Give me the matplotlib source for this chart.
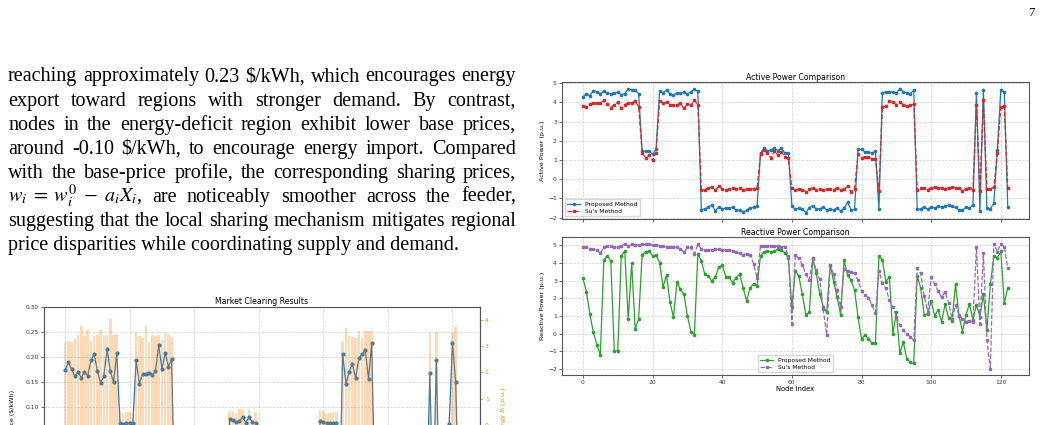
import numpy as np
import matplotlib
matplotlib.use('Agg')
import matplotlib.pyplot as plt

plt.rcParams['mathtext.fontset'] = 'stix'

# ---- data ----
nodes = np.arange(123)

active_proposed = [4.30, 4.42, 4.35, 4.60, 4.55, 4.45, 4.58, 4.48, 4.45, 4.50, 4.52, 4.40, 4.45, 4.70, 4.66, 4.63, 4.45,
                   1.47, 1.46, 1.46, 1.30, 1.56,
                   4.60, 4.50, 4.63, 4.45, 4.38, 4.48, 4.47, 4.52, 4.42, 4.55, 4.67, 4.57,
                   -1.58, -1.55, -1.45, -1.35, -1.65, -1.45, -1.55, -1.50, -1.52, -1.45, -1.60, -1.62, -1.70, -1.62, -1.48, -1.47, -1.40,
                   1.35, 1.62, 1.48, 1.52, 1.62, 1.48, 1.62, 1.35, 1.38,
                   -1.40, -1.57, -1.52, -1.55, -1.75, -1.48, -1.38, -1.55, -1.55, -1.45, -1.60, -1.55, -1.60, -1.50, -1.65, -1.50, -1.20, -1.60, -1.57,
                   1.55, 1.55, 1.42, 1.40, 1.35, 1.45,
                   -1.55,
                   4.50, 4.55, 4.55, 4.55, 4.48, 4.72, 4.55, 4.50, 4.45, 4.62,
                   -1.55, -1.55, -1.45, -1.57, -1.45, -1.50, -1.40, -1.47, -1.40, -1.35, -1.42, -1.47, -1.60, -1.62, -1.45, -1.52, -1.35,
                   4.50, -1.65, 4.62, -1.50, -1.55, -1.25, 1.50, 4.65, 4.55, -1.45]

active_su = [3.83, 3.78, 3.90, 3.98, 3.95, 3.95, 4.10, 3.90, 3.73, 3.88, 4.00, 3.68, 3.88, 3.98, 3.98, 4.05, 3.78,
             1.36, 1.12, 1.25, 0.98, 1.36,
             4.05, 3.95, 4.02, 3.88, 3.87, 3.88, 3.95, 3.68, 3.92, 3.85, 4.10, 3.88,
             -0.55, -0.55, -0.45, -0.40, -0.55, -0.38, -0.50, -0.55, -0.50, -0.45, -0.50, -0.48, -0.55, -0.52, -0.50, -0.50, -0.48,
             1.30, 1.50, 1.35, 1.10, 1.48, 1.25, 1.42, 1.15, 1.10,
             -0.48, -0.57, -0.50, -0.55, -0.65, -0.52, -0.45, -0.55, -0.50, -0.55, -0.52, -0.50, -0.55, -0.45, -0.55, -0.50, -0.38, -0.65, -0.50,
             1.30, 1.08, 1.18, 1.15, 1.05, 1.05,
             -0.60,
             3.78, 3.80, 4.05, 4.00, 3.88, 4.00, 3.88, 3.80, 3.85, 3.90,
             -0.57, -0.45, -0.48, -0.55, -0.45, -0.40, -0.45, -0.45, -0.50, -0.45, -0.40, -0.45, -0.48, -0.62, -0.50, -0.45, -0.55,
             3.88, -0.60, 4.10, -0.50, -0.50, -0.42, 1.35, 3.75, 3.80, -0.45]

reactive_proposed = [3.12, 2.37, 1.10, 0.07, -0.63, -1.19, 4.16, 4.40, 4.10, -0.97, -0.97, 4.38, 4.68, 0.83, 3.97, 0.27, 0.83,
                     4.47, 4.62, 4.66, 4.40, 4.44, 4.02, 2.65, 3.31, 1.77, 0.93, 2.90, 2.50, 2.22, 1.00, 0.12, -0.07,
                     4.51, 4.12, 3.35, 3.27, 2.97, 3.20, 3.74, 3.87, 3.22, 3.18,
                     2.88, 3.16, 3.37, 2.60, 1.85, 2.60, 2.82, 2.70, 4.40, 4.62, 4.68, 4.62, 4.66, 4.78, 4.70, 4.58, 4.25,
                     1.53, 3.55, 3.25, 2.22, 1.06, 1.20, 4.25, 3.40, 2.24, 1.53, 1.20, 3.90, 2.94, 2.05, 1.07, 4.15, 3.30,
                     3.02, 2.47, 0.93, -0.30, -0.07, -0.30, -0.53, -0.50,
                     4.40, 4.16, 2.94, 3.22, -0.03, 1.20, -1.10, -0.48, -1.42, -1.62, -1.68, 3.27, 2.56, 1.06, 1.12, 1.85,
                     1.02, 1.34, 0.68, 1.66, 0.90, 0.72, 2.80, 1.00, 0.12, 1.06, 1.68, 0.78, 1.62, 0.97, 2.22, 0.22, 2.78,
                     4.40, 4.29, 4.66, 1.72, 2.60]

reactive_su = [4.90, 4.90, 4.81, 4.80, 4.72, 4.53, 4.90, 4.96, 4.96, 4.92, 4.90, 4.96, 5.05, 4.94, 5.04, 5.00, 5.00,
               5.05, 5.05, 5.04, 5.02, 5.02, 4.96, 4.96, 4.92, 4.90, 4.90, 4.87, 4.80, 4.59, 4.87, 4.87, 4.51,
               5.04, 4.80, 4.72, 4.74, 4.74, 4.76, 4.76, 4.74, 4.72, 4.70, 4.68, 4.60, 4.55, 4.46, 4.51, 4.47, 3.95, 3.15,
               4.98, 4.97, 4.96, 4.95, 4.95, 4.93, 4.92, 4.92, 4.40,
               0.53, 4.44, 4.25, 3.90, 3.35, 3.03, 4.20, 3.60, 3.07, 1.38, -0.07, 3.84, 3.35, 2.47, 1.50, 3.65, 3.55,
               3.50, 3.40, 3.03, 2.41, 2.19, 2.04, 1.62, 1.19,
               3.54, 2.84, 2.56, 1.90, 1.50, 0.97, 0.50, 0.22, -0.03, -0.16, -0.38, 3.69, 3.40, 2.13, 1.25, 3.18,
               2.80, 2.41, 2.05, 2.37, 1.75, 0.83, 1.62, 1.06, 0.83, 0.68, 0.74, 0.67, 4.90, 0.52, 4.53, -0.35, -1.98,
               5.09, 4.62, 5.09, 4.90, 3.69]

price = [0.173, 0.189, 0.175, 0.161, 0.169, 0.158, 0.170, 0.161, 0.193, 0.205, 0.171, 0.148, 0.161, 0.216, 0.171, 0.149, 0.207,
         0.067, 0.066, 0.067, 0.068, 0.068,
         0.193, 0.146, 0.165, 0.166, 0.168, 0.163, 0.171, 0.223, 0.175, 0.208, 0.180, 0.195,
         -0.10, -0.11, -0.09, -0.10, -0.12, -0.10, -0.09, -0.11, -0.10, -0.10, -0.11, -0.09, -0.10, -0.12, -0.10, -0.09, -0.10,
         0.075, 0.073, 0.069, 0.071, 0.079, 0.068, 0.079, 0.069, 0.068,
         -0.10, -0.11, -0.10, -0.09, -0.12, -0.10, -0.10, -0.11, -0.09, -0.10, -0.11, -0.10, -0.09, -0.10, -0.12, -0.10, -0.08, -0.11, -0.10,
         0.071, 0.069, 0.068, 0.068, 0.067, 0.067,
         -0.10,
         0.205, 0.145, 0.170, 0.186, 0.157, 0.197, 0.205, 0.213, 0.156, 0.227,
         -0.10, -0.11, -0.10, -0.09, -0.10, -0.10, -0.11, -0.10, -0.09, -0.10, -0.11, -0.10, -0.10, -0.12, -0.10, -0.09, -0.10,
         0.168, -0.11, 0.194, -0.10, -0.10, -0.09, 0.066, 0.228, 0.149, -0.10]

energy = [3.15, 3.20, 3.14, 3.30, 3.43, 3.75, 3.40, 3.60, 3.18, 3.38, 3.42, 3.63, 3.43, 3.43, 4.02, 3.43, 3.47,
          0.52, 0.46, 0.48, 0.50, 0.48,
          3.53, 3.40, 3.31, 3.78, 3.15, 3.41, 3.37, 3.43, 3.22, 3.52, 3.46, 3.36,
          -1.60, -1.55, -1.45, -1.35, -1.65, -1.45, -1.55, -1.50, -1.52, -1.45, -1.60, -1.62, -1.70, -1.62, -1.48, -1.47, -1.40,
          0.55, 0.50, 0.45, 0.60, 0.56, 0.32, 0.56, 0.22, 0.50,
          -1.40, -1.57, -1.52, -1.55, -1.75, -1.48, -1.38, -1.55, -1.55, -1.45, -1.60, -1.55, -1.60, -1.50, -1.65, -1.50, -1.20, -1.60, -1.57,
          0.54, 0.52, 0.44, 0.47, 0.48, 0.48,
          -1.55,
          3.20, 3.68, 3.38, 3.36, 3.32, 3.56, 3.31, 3.56, 3.56, 3.59,
          -1.55, -1.55, -1.45, -1.57, -1.45, -1.50, -1.40, -1.47, -1.40, -1.35, -1.42, -1.47, -1.60, -1.62, -1.45, -1.52, -1.35,
          3.51, -1.65, 3.55, -1.50, -1.55, -1.25, 0.33, 3.50, 3.71, -1.45]

paragraph = [
    "reaching approximately 0.23 $/kWh, which encourages energy",
    "export toward regions with stronger demand. By contrast,",
    "nodes in the energy-deficit region exhibit lower base prices,",
    "around -0.10 $/kWh, to encourage energy import. Compared",
    "with the base-price profile, the corresponding sharing prices,",
    r"$w_i\;=\;w_i^0\;-\;a_iX_i$, are noticeably smoother across the feeder,",
    "suggesting that the local sharing mechanism mitigates regional",
    "price disparities while coordinating supply and demand.",
]

W, H = 1041, 425
fig = plt.figure(figsize=(W / 100, H / 100), dpi=100)
fig.patch.set_facecolor('white')


def add_ax(left, top, right, bottom):
    return fig.add_axes([left / W, 1 - bottom / H, (right - left) / W, (bottom - top) / H])


TICK = 4.3
TITLE = 5.6
LAB = 4.6


def style(ax):
    for s in ax.spines.values():
        s.set_color('#555555')
        s.set_linewidth(0.8)
    ax.tick_params(labelsize=TICK, length=2, width=0.5, pad=1.5, colors='#333333')
    ax.grid(True, linestyle='--', linewidth=0.5, color='#b0b0b0', alpha=0.6)


# ---- active power ----
ax1 = add_ax(561.7, 82.3, 1029, 219)
ax1.plot(nodes, active_proposed, '-o', color='#1f77b4', lw=0.9, ms=1.6, label='Proposed Method')
ax1.plot(nodes, active_su, '--s', color='#d62728', lw=0.9, ms=1.6, label="Su's Method")
style(ax1)
ax1.set_xticks(range(0, 121, 20))
ax1.tick_params(labelbottom=False)
ax1.set_yticks(range(-2, 6))
ax1.set_title('Active Power Comparison', fontsize=TITLE, pad=2)
ax1.set_ylabel('Active Power (p.u.)', fontsize=LAB, labelpad=2)
ax1.legend(loc='lower left', fontsize=4.3, framealpha=0.8, handlelength=2.2, borderpad=0.4, labelspacing=0.3)

# ---- reactive power ----
ax2 = add_ax(561.7, 237.3, 1029, 375)
ax2.plot(nodes, reactive_proposed, '-o', color='#2ca02c', lw=0.9, ms=1.6, label='Proposed Method')
ax2.plot(nodes, reactive_su, '--s', color='#9467bd', lw=0.9, ms=1.6, label="Su's Method")
style(ax2)
ax2.set_xticks(range(0, 121, 20))
ax2.set_yticks(range(-2, 6))
ax2.set_title('Reactive Power Comparison', fontsize=TITLE, pad=2)
ax2.set_ylabel('Reactive Power (p.u.)', fontsize=LAB, labelpad=2)
ax2.set_xlabel('Node Index', fontsize=LAB + 0.3, labelpad=1)
ax2.legend(loc='lower center', fontsize=4.3, framealpha=0.8, handlelength=2.2, borderpad=0.4, labelspacing=0.3)

# ---- market clearing (cut by the page bottom) ----
ax3 = add_ax(44, 306.7, 480, 306.7 + 210)
ax3.plot(nodes, price, '-o', color='#1f77b4', lw=0.9, ms=2.0)
style(ax3)
ax3.set_ylim(-0.12, 0.30)
ax3.set_xticks(range(0, 121, 20))
ax3.set_ylabel('Price ($/kWh)', fontsize=LAB)
ax3.set_title('Market Clearing Results', fontsize=TITLE, pad=2)
ax3b = ax3.twinx()
ax3b.bar(nodes, energy, width=0.8, color='#ff7f0e', alpha=0.3)
ax3b.set_ylim(-3.48, 4.5)
for s in ax3b.spines.values():
    s.set_color('#555555')
    s.set_linewidth(0.8)
ax3b.tick_params(labelsize=TICK, length=2, width=0.5, pad=1.5, colors='#ff7f0e')
ax3b.set_ylabel('Energy $X_i$ (p.u.)', fontsize=LAB, color='#ff7f0e')

# ---- page text ----
serif = 'Liberation Serif'
r = fig.canvas.get_renderer()


def text_width(s, size):
    t = fig.text(0, 0, s, fontsize=size, family=serif)
    w = t.get_window_extent(renderer=r).width
    t.remove()
    return w


size = 10 * 452 / text_width(paragraph[-1], 10)
x0, x1 = 8, 516
base0, step = 81.5, 24.04
for k, line in enumerate(paragraph):
    yb = 1 - (base0 + k * step) / H
    if k == len(paragraph) - 1:
        fig.text(x0 / W, yb, line, fontsize=size, family=serif, va='baseline')
        continue
    words = line.split(' ')
    widths = [text_width(w, size) for w in words]
    gap = (x1 - x0 - sum(widths)) / (len(words) - 1)
    x = x0
    for w, wd in zip(words, widths):
        fig.text(x / W, yb, w, fontsize=size, family=serif, va='baseline')
        x += wd + gap

fig.text(1031 / W, 1 - 13 / H, '7', fontsize=9, family=serif, ha='center', va='center')

fig.savefig('out.png', dpi=100)
